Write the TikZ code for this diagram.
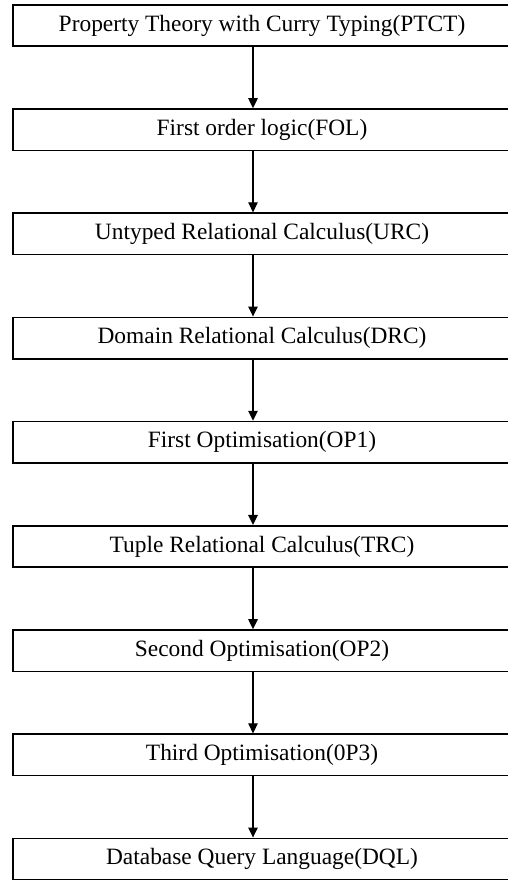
\documentclass[tikz,border=0pt]{standalone}
\usepackage{fontspec}
\setmainfont{Liberation Serif}
\usepackage{tikz}
\usetikzlibrary{arrows.meta}
\usetikzlibrary{positioning}

\begin{document}
\begin{tikzpicture}[->,
        >={Triangle[length=10pt,width=9.5pt]},
        x=1pt, y=1pt,
        on grid,
        node distance=104.2pt,
        every node/.style={font=\fontsize{23.4}{26}\selectfont},
        stage/.style={draw, line width=1.6pt, minimum width=498pt, minimum height=41.5pt, inner sep=0pt},
        flow/.style={line width=1.2pt}]

      \useasboundingbox (0,0) rectangle (507,-880);

      \node[stage] (ptct) at (262,-25.5) {Property Theory with Curry Typing(PTCT)};
      \node[stage] (fol) [below=of ptct] {First order logic(FOL)};
      \node[stage] (urc) [below=of fol]  {Untyped Relational Calculus(URC)};
      \node[stage] (drc) [below=of urc]  {Domain Relational Calculus(DRC)};
      \node[stage] (op1) [below=of drc]  {First Optimisation(OP1)};
      \node[stage] (trc) [below=of op1]  {Tuple Relational Calculus(TRC)};
      \node[stage] (op2) [below=of trc]  {Second Optimisation(OP2)};
      \node[stage] (op3) [below=of op2]  {Third Optimisation(0P3)};
      \node[stage] (dql) [below=of op3]  {Database Query Language(DQL)};

      \path[flow]
      ([xshift=-9pt]ptct.south) edge ([xshift=-9pt]fol.north)
      ([xshift=-9pt]fol.south)  edge ([xshift=-9pt]urc.north)
      ([xshift=-9pt]urc.south)  edge ([xshift=-9pt]drc.north)
      ([xshift=-9pt]drc.south)  edge ([xshift=-9pt]op1.north)
      ([xshift=-9pt]op1.south)  edge ([xshift=-9pt]trc.north)
      ([xshift=-9pt]trc.south)  edge ([xshift=-9pt]op2.north)
      ([xshift=-9pt]op2.south)  edge ([xshift=-9pt]op3.north)
      ([xshift=-9pt]op3.south)  edge ([xshift=-9pt]dql.north);

\end{tikzpicture}
\end{document}
